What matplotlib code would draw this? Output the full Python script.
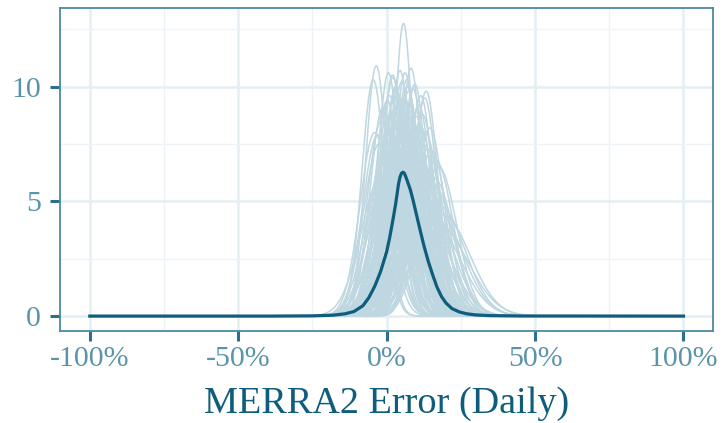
import numpy as np
import matplotlib
matplotlib.use("Agg")
from matplotlib import pyplot as plt
from matplotlib.ticker import FixedLocator, FuncFormatter

# per-site error densities: centre of each curve (%) and its peak height
site_centers = [5.7, -3.5, 8.2, 4.5, 6.2, 2.0, 2.1, 6.8, 5.1, 9.5, 3.0, 3.1, 8.9, 7.4, 3.8,
                1.0, 11.5, 6.1, 12.8, 0.2, 4.8, 4.2, 10.8, -1.2, 2.6, 0.6, -4.5, 13.3, 7.0,
                7.9, 12.0, 5.5, 1.7, 8.8, 6.6, 11.3, 3.4, 4.9, 9.1, 13.0, -4.0, 0.8, 7.1,
                10.2, 2.9, -2.5, 5.9, -0.5, 8.5, 6.3, 4.0, 1.5, 10.0, -1.8, 14.5, 6.0, 3.5,
                9.7, 12.2, 2.3, 15.0, 0.0, 11.0, 5.0, 7.6, -3.0, 4.4, 13.8, 6.5,
                2.2, 11.9, 7.7, 3.6, 9.8, 1.4, 5.3, 6.9, 0.5, 14.2, 16.0, 8.0, 4.6, 10.5,
                2.4, 7.2, 3.0, 12.6, 5.0, -2.0, 9.3, 16.5, 17.5, 13.0, 15.5, 11.5, 8.5,
                14.0, -1.0, 3.9,
                18.0, 16.8, 12.0, 19.0, 15.0, 17.2, 10.5]
site_peaks = [12.75, 10.9, 10.8, 10.7, 10.6, 10.5, 10.4, 10.3, 10.2, 10.1, 10.0, 9.9, 9.9, 9.8, 9.7,
              9.6, 9.6, 9.5, 9.5, 9.4, 9.4, 9.3, 9.2, 9.1, 9.0, 10.6, 10.3, 9.8, 10.0,
              8.9, 8.8, 8.7, 8.6, 8.5, 8.4, 8.3, 8.2, 8.1, 8.0, 8.0, 8.0, 7.9, 7.8,
              7.7, 7.6, 7.5, 7.4, 7.3, 7.2, 7.1, 7.0, 8.9, 8.7, 8.5, 8.2, 8.0, 7.8,
              7.6, 7.5, 7.4, 7.2, 7.1, 7.0, 8.3, 8.1, 7.9, 7.7, 7.3, 9.0,
              6.9, 6.8, 6.7, 6.6, 6.5, 6.4, 6.3, 6.2, 6.1, 6.0, 6.0, 5.9, 5.8, 5.7,
              5.6, 5.5, 5.4, 5.3, 5.2, 6.0, 5.0, 6.8, 6.5, 6.2, 5.8, 5.5, 5.2,
              5.0, 6.6, 6.3,
              4.8, 4.6, 4.5, 4.4, 4.2, 4.0, 4.9]

# average density across sites
mean_x = [-100, -40, -25, -18, -14, -11, -8, -6, -4, -2, 0, 1, 2, 3, 3.5, 4, 4.5, 5, 5.5,
          6, 6.5, 7, 8, 9, 10, 11, 12.5, 14, 15.5, 17, 18.5, 20, 22, 24.5, 27, 30, 35,
          45, 100]
mean_y = [0, 0, 0.01, 0.04, 0.1, 0.2, 0.45, 0.8, 1.3, 1.95, 2.8, 3.4, 4.1, 4.85, 5.3,
          5.75, 6.05, 6.22, 6.27, 6.22, 6.05, 5.88, 5.5, 5.0, 4.45, 3.9, 3.1, 2.4, 1.8,
          1.25, 0.85, 0.57, 0.33, 0.18, 0.1, 0.05, 0.02, 0.005, 0]

light = '#bfd7e0'
dark = '#0e5d7c'
frame = '#4b89a4'
label_col = '#5a94aa'
grid_major = '#e5eef2'
grid_minor = '#edf3f6'

plt.rcParams['font.family'] = ['Liberation Serif', 'DejaVu Serif']

fig = plt.figure(figsize=(7.24, 4.23), dpi=100)
ax = fig.add_axes([0.083, 0.218, 0.902, 0.763])

xs = np.linspace(-100, 100, 1601)
for c, p in zip(site_centers, site_peaks):
    # unit-area density on a fractional scale, so width follows from peak
    sd = 100.0 / (p * np.sqrt(2 * np.pi))
    ax.plot(xs, p * np.exp(-0.5 * ((xs - c) / sd) ** 2), color=light, lw=1.1, zorder=2)

ax.plot(mean_x, mean_y, color=dark, lw=2.3, zorder=3, solid_joinstyle='round')

ax.set_xlim(-110, 110)
ax.set_ylim(-0.64, 13.42)
ax.xaxis.set_major_locator(FixedLocator([-100, -50, 0, 50, 100]))
ax.xaxis.set_minor_locator(FixedLocator([-75, -25, 25, 75]))
ax.yaxis.set_major_locator(FixedLocator([0, 5, 10]))
ax.yaxis.set_minor_locator(FixedLocator([2.5, 7.5, 12.5]))
ax.xaxis.set_major_formatter(FuncFormatter(lambda v, _: '%d%%' % v))

ax.grid(True, which='major', color=grid_major, lw=1.8, zorder=0)
ax.grid(True, which='minor', color=grid_minor, lw=1.0, zorder=0)
ax.set_axisbelow(True)

for s in ax.spines.values():
    s.set_color(frame)
    s.set_linewidth(1.3)

ax.tick_params(which='major', length=7, width=2.2, color='#2d6f8e',
               labelcolor=label_col, labelsize=21.5, pad=4)
ax.tick_params(axis='y', pad=7)
ax.tick_params(which='minor', length=0)
ax.set_xlabel('MERRA2 Error (Daily)', fontsize=27.5, color=dark, labelpad=10)

fig.savefig('out.png', dpi=100)
